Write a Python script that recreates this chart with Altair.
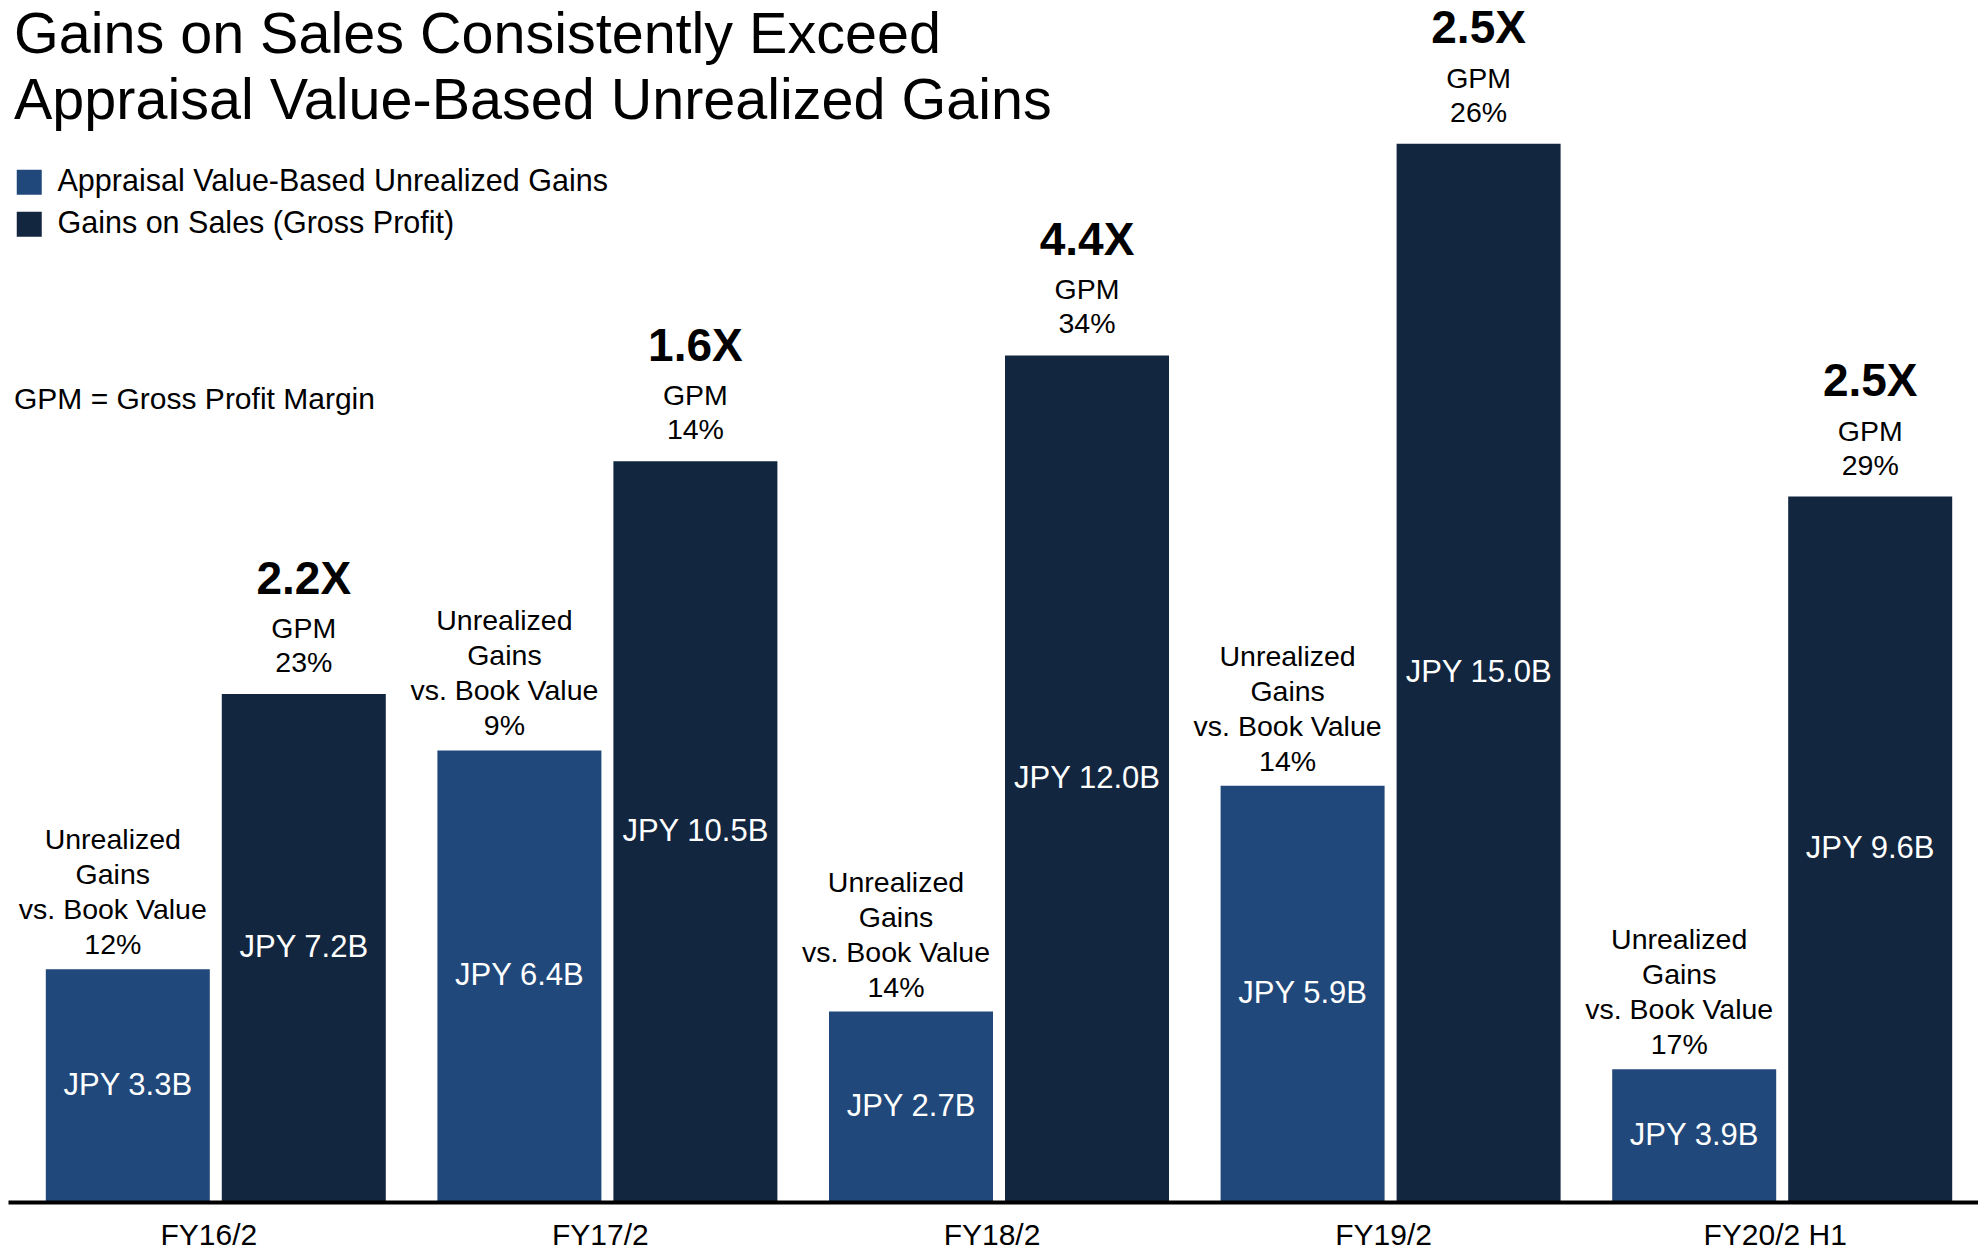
import altair as alt
import pandas as pd

# ---- data ----
periods = ["FY16/2", "FY17/2", "FY18/2", "FY19/2", "FY20/2 H1"]
series = ["Appraisal Value-Based Unrealized Gains", "Gains on Sales (Gross Profit)"]

unrealized_label_value = [3.3, 6.4, 2.7, 5.9, 3.9]      # JPY B, as labelled
gross_profit_label_value = [7.2, 10.5, 12.0, 15.0, 9.6]  # JPY B, as labelled
unrealized_bar_height = [3.3, 6.4, 2.7, 5.9, 1.88]       # bar height as drawn
gross_profit_bar_height = [7.2, 10.5, 12.0, 15.0, 10.0]  # bar height as drawn
unrealized_vs_book = ["12%", "9%", "14%", "14%", "17%"]
gpm = ["23%", "14%", "34%", "26%", "29%"]
multiple = ["2.2X", "1.6X", "4.4X", "2.5X", "2.5X"]

colors = ["#20487A", "#12263F"]
FONT = "Liberation Sans"

rows = []
for i, p in enumerate(periods):
    rows.append({
        "period": p, "series": series[0],
        "height": unrealized_bar_height[i],
        "inside": f"JPY {unrealized_label_value[i]:.1f}B",
        "top": "Unrealized\nGains\nvs. Book Value\n" + unrealized_vs_book[i],
        "mult": "",
    })
    rows.append({
        "period": p, "series": series[1],
        "height": gross_profit_bar_height[i],
        "inside": f"JPY {gross_profit_label_value[i]:.1f}B",
        "top": "GPM\n" + gpm[i],
        "mult": multiple[i],
    })
df = pd.DataFrame(rows)
df["mid"] = df["height"] / 2

PLOT_H = 1194
Y_MAX = PLOT_H / 70.55
yscale = alt.Scale(domain=[0, Y_MAX], nice=False, zero=True)

x_enc = alt.X(
    "period:N", sort=periods, title=None,
    scale=alt.Scale(paddingInner=0, paddingOuter=0.01532, align=1),
    axis=alt.Axis(labelAngle=0, labelFontSize=30, labelColor="black", labelFont=FONT,
                  ticks=False, tickSize=0, labelPadding=18, labelOffset=-7,
                  domainColor="black", domainWidth=4, grid=False, zindex=1),
)
xo_enc = alt.XOffset("series:N", sort=series,
                     scale=alt.Scale(paddingInner=0.06818, paddingOuter=0.14659))

base = alt.Chart(df).encode(x=x_enc, xOffset=xo_enc)

bars = base.mark_bar().encode(
    y=alt.Y("height:Q", scale=yscale, axis=None),
    color=alt.Color(
        "series:N", sort=series,
        scale=alt.Scale(domain=series, range=colors),
        legend=alt.Legend(title=None, orient="none", legendX=6, legendY=159,
                          symbolType="square", symbolSize=625, symbolStrokeWidth=0,
                          labelFontSize=30.5, labelFont=FONT, labelColor="black",
                          labelOffset=13, rowPadding=11, labelLimit=0),
    ),
)

inside = base.mark_text(color="white", fontSize=31, baseline="middle", font=FONT).encode(
    y=alt.Y("mid:Q", scale=yscale, axis=None), text="inside:N"
)

# multi-line labels: first line sits at the anchor, so lift by (lines-1)*lineHeight
light_top = base.transform_filter(alt.datum.series == series[0]).mark_text(
    color="black", fontSize=28.5, baseline="bottom", lineBreak="\n", lineHeight=35,
    dy=-114, dx=-15, font=FONT
).encode(y=alt.Y("height:Q", scale=yscale, axis=None), text="top:N")

dark_top = base.transform_filter(alt.datum.series == series[1]).mark_text(
    color="black", fontSize=28.5, baseline="bottom", lineBreak="\n", lineHeight=34,
    dy=-50, font=FONT
).encode(y=alt.Y("height:Q", scale=yscale, axis=None), text="top:N")

mult = base.transform_filter(alt.datum.series == series[1]).mark_text(
    color="black", fontSize=46, fontWeight="bold", baseline="bottom", dy=-90.5, font=FONT
).encode(y=alt.Y("height:Q", scale=yscale, axis=None), text="mult:N")

chart = alt.layer(bars, inside, light_top, dark_top, mult).properties(
    width=1970, height=PLOT_H,
    padding={"left": 0, "top": 0, "right": 0, "bottom": 48},
    autosize=alt.AutoSizeParams(type="none"),
    title=alt.TitleParams(
        text=["Gains on Sales Consistently Exceed", "Appraisal Value-Based Unrealized Gains"],
        subtitle="GPM = Gross Profit Margin",
        anchor="start", frame="group", fontSize=57.5, fontWeight="normal",
        lineHeight=66, color="black", font=FONT,
        subtitleFontSize=30, subtitleColor="black", subtitleFont=FONT,
        subtitlePadding=254, offset=-410, dx=6,
    ),
).configure(font=FONT).configure_view(stroke="transparent", strokeWidth=0)

chart.save("out.html", embed_options={"renderer": "svg", "actions": False})
